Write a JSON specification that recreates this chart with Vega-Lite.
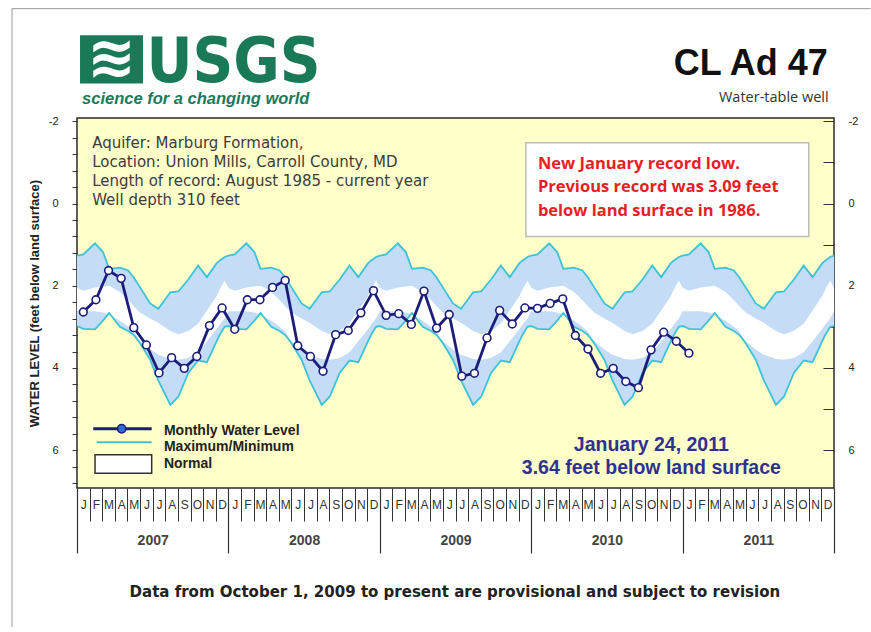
{
  "$schema": "https://vega.github.io/schema/vega-lite/v6.json",
  "autosize": {"type": "none"},
  "width": 757,
  "height": 370,
  "padding": {"left": 77, "top": 118, "right": 37, "bottom": 144},
  "background": "white",
  "config": {
    "view": {"fill": "#ffffc9", "stroke": "#2a2a2a", "strokeWidth": 1.5},
    "font": "Liberation Sans"
  },
  "datasets": {
    "bands": [
      {"t": 0, "top": 1.27, "ntop": 2.05, "nbot": 2.62, "bot": 2.98},
      {"t": 0.5, "top": 1.24, "ntop": 2.12, "nbot": 2.62, "bot": 3.05},
      {"t": 1.43, "top": 0.97, "ntop": 2.04, "nbot": 2.62, "bot": 3.06},
      {"t": 2.06, "top": 1.18, "ntop": 2.02, "nbot": 2.65, "bot": 2.85},
      {"t": 2.55, "top": 1.59, "ntop": 2.0, "nbot": 2.7, "bot": 2.66},
      {"t": 3.4, "top": 1.56, "ntop": 2.15, "nbot": 2.85, "bot": 3.0},
      {"t": 4.06, "top": 1.63, "ntop": 2.35, "nbot": 3.0, "bot": 3.1},
      {"t": 4.5, "top": 1.8, "ntop": 2.5, "nbot": 3.12, "bot": 3.2},
      {"t": 5, "top": 2.04, "ntop": 2.65, "nbot": 3.35, "bot": 3.4},
      {"t": 5.8, "top": 2.43, "ntop": 2.8, "nbot": 3.55, "bot": 3.8},
      {"t": 6.44, "top": 2.56, "ntop": 2.9, "nbot": 3.68, "bot": 4.3},
      {"t": 7.4, "top": 2.16, "ntop": 3.1, "nbot": 3.78, "bot": 4.9},
      {"t": 8.03, "top": 2.14, "ntop": 3.18, "nbot": 3.8, "bot": 4.7},
      {"t": 8.82, "top": 1.85, "ntop": 3.1, "nbot": 3.76, "bot": 4.12},
      {"t": 9.6, "top": 1.51, "ntop": 2.92, "nbot": 3.62, "bot": 3.82},
      {"t": 10.3, "top": 1.79, "ntop": 2.6, "nbot": 3.35, "bot": 3.86},
      {"t": 11.07, "top": 1.45, "ntop": 2.25, "nbot": 3.05, "bot": 3.35},
      {"t": 11.3, "top": 1.39, "ntop": 2.1, "nbot": 2.95, "bot": 3.2},
      {"t": 11.7, "top": 1.3, "ntop": 1.87, "nbot": 2.8, "bot": 3.0},
      {"t": 12, "top": 1.27, "ntop": 2.05, "nbot": 2.62, "bot": 2.98},
      {"t": 12.5, "top": 1.24, "ntop": 2.12, "nbot": 2.62, "bot": 3.05},
      {"t": 13.43, "top": 0.97, "ntop": 2.04, "nbot": 2.62, "bot": 3.06},
      {"t": 14.06, "top": 1.18, "ntop": 2.02, "nbot": 2.65, "bot": 2.85},
      {"t": 14.55, "top": 1.59, "ntop": 2.0, "nbot": 2.7, "bot": 2.66},
      {"t": 15.4, "top": 1.56, "ntop": 2.15, "nbot": 2.85, "bot": 3.0},
      {"t": 16.06, "top": 1.63, "ntop": 2.35, "nbot": 3.0, "bot": 3.1},
      {"t": 16.5, "top": 1.8, "ntop": 2.5, "nbot": 3.12, "bot": 3.2},
      {"t": 17, "top": 2.04, "ntop": 2.65, "nbot": 3.35, "bot": 3.4},
      {"t": 17.8, "top": 2.43, "ntop": 2.8, "nbot": 3.55, "bot": 3.8},
      {"t": 18.44, "top": 2.56, "ntop": 2.9, "nbot": 3.68, "bot": 4.3},
      {"t": 19.4, "top": 2.16, "ntop": 3.1, "nbot": 3.78, "bot": 4.9},
      {"t": 20.03, "top": 2.14, "ntop": 3.18, "nbot": 3.8, "bot": 4.7},
      {"t": 20.82, "top": 1.85, "ntop": 3.1, "nbot": 3.76, "bot": 4.12},
      {"t": 21.6, "top": 1.51, "ntop": 2.92, "nbot": 3.62, "bot": 3.82},
      {"t": 22.3, "top": 1.79, "ntop": 2.6, "nbot": 3.35, "bot": 3.86},
      {"t": 23.07, "top": 1.45, "ntop": 2.25, "nbot": 3.05, "bot": 3.35},
      {"t": 23.3, "top": 1.39, "ntop": 2.1, "nbot": 2.95, "bot": 3.2},
      {"t": 23.7, "top": 1.3, "ntop": 1.87, "nbot": 2.8, "bot": 3.0},
      {"t": 24, "top": 1.27, "ntop": 2.05, "nbot": 2.62, "bot": 2.98},
      {"t": 24.5, "top": 1.24, "ntop": 2.12, "nbot": 2.62, "bot": 3.05},
      {"t": 25.43, "top": 0.97, "ntop": 2.04, "nbot": 2.62, "bot": 3.06},
      {"t": 26.06, "top": 1.18, "ntop": 2.02, "nbot": 2.65, "bot": 2.85},
      {"t": 26.55, "top": 1.59, "ntop": 2.0, "nbot": 2.7, "bot": 2.66},
      {"t": 27.4, "top": 1.56, "ntop": 2.15, "nbot": 2.85, "bot": 3.0},
      {"t": 28.06, "top": 1.63, "ntop": 2.35, "nbot": 3.0, "bot": 3.1},
      {"t": 28.5, "top": 1.8, "ntop": 2.5, "nbot": 3.12, "bot": 3.2},
      {"t": 29, "top": 2.04, "ntop": 2.65, "nbot": 3.35, "bot": 3.4},
      {"t": 29.8, "top": 2.43, "ntop": 2.8, "nbot": 3.55, "bot": 3.8},
      {"t": 30.44, "top": 2.56, "ntop": 2.9, "nbot": 3.68, "bot": 4.3},
      {"t": 31.4, "top": 2.16, "ntop": 3.1, "nbot": 3.78, "bot": 4.9},
      {"t": 32.03, "top": 2.14, "ntop": 3.18, "nbot": 3.8, "bot": 4.7},
      {"t": 32.82, "top": 1.85, "ntop": 3.1, "nbot": 3.76, "bot": 4.12},
      {"t": 33.6, "top": 1.51, "ntop": 2.92, "nbot": 3.62, "bot": 3.82},
      {"t": 34.3, "top": 1.79, "ntop": 2.6, "nbot": 3.35, "bot": 3.86},
      {"t": 35.07, "top": 1.45, "ntop": 2.25, "nbot": 3.05, "bot": 3.35},
      {"t": 35.3, "top": 1.39, "ntop": 2.1, "nbot": 2.95, "bot": 3.2},
      {"t": 35.7, "top": 1.3, "ntop": 1.87, "nbot": 2.8, "bot": 3.0},
      {"t": 36, "top": 1.27, "ntop": 2.05, "nbot": 2.62, "bot": 2.98},
      {"t": 36.5, "top": 1.24, "ntop": 2.12, "nbot": 2.62, "bot": 3.05},
      {"t": 37.43, "top": 0.97, "ntop": 2.04, "nbot": 2.62, "bot": 3.06},
      {"t": 38.06, "top": 1.18, "ntop": 2.02, "nbot": 2.65, "bot": 2.85},
      {"t": 38.55, "top": 1.59, "ntop": 2.0, "nbot": 2.7, "bot": 2.66},
      {"t": 39.4, "top": 1.56, "ntop": 2.15, "nbot": 2.85, "bot": 3.0},
      {"t": 40.06, "top": 1.63, "ntop": 2.35, "nbot": 3.0, "bot": 3.1},
      {"t": 40.5, "top": 1.8, "ntop": 2.5, "nbot": 3.12, "bot": 3.2},
      {"t": 41, "top": 2.04, "ntop": 2.65, "nbot": 3.35, "bot": 3.4},
      {"t": 41.8, "top": 2.43, "ntop": 2.8, "nbot": 3.55, "bot": 3.8},
      {"t": 42.44, "top": 2.56, "ntop": 2.9, "nbot": 3.68, "bot": 4.3},
      {"t": 43.4, "top": 2.16, "ntop": 3.1, "nbot": 3.78, "bot": 4.9},
      {"t": 44.03, "top": 2.14, "ntop": 3.18, "nbot": 3.8, "bot": 4.7},
      {"t": 44.82, "top": 1.85, "ntop": 3.1, "nbot": 3.76, "bot": 4.12},
      {"t": 45.6, "top": 1.51, "ntop": 2.92, "nbot": 3.62, "bot": 3.82},
      {"t": 46.3, "top": 1.79, "ntop": 2.6, "nbot": 3.35, "bot": 3.86},
      {"t": 47.07, "top": 1.45, "ntop": 2.25, "nbot": 3.05, "bot": 3.35},
      {"t": 47.3, "top": 1.39, "ntop": 2.1, "nbot": 2.95, "bot": 3.2},
      {"t": 47.7, "top": 1.3, "ntop": 1.87, "nbot": 2.8, "bot": 3.0},
      {"t": 48, "top": 1.27, "ntop": 2.05, "nbot": 2.62, "bot": 2.98},
      {"t": 48.5, "top": 1.24, "ntop": 2.12, "nbot": 2.62, "bot": 3.05},
      {"t": 49.43, "top": 0.97, "ntop": 2.04, "nbot": 2.62, "bot": 3.06},
      {"t": 50.06, "top": 1.18, "ntop": 2.02, "nbot": 2.65, "bot": 2.85},
      {"t": 50.55, "top": 1.59, "ntop": 2.0, "nbot": 2.7, "bot": 2.66},
      {"t": 51.4, "top": 1.56, "ntop": 2.15, "nbot": 2.85, "bot": 3.0},
      {"t": 52.06, "top": 1.63, "ntop": 2.35, "nbot": 3.0, "bot": 3.1},
      {"t": 52.5, "top": 1.8, "ntop": 2.5, "nbot": 3.12, "bot": 3.2},
      {"t": 53, "top": 2.04, "ntop": 2.65, "nbot": 3.35, "bot": 3.4},
      {"t": 53.8, "top": 2.43, "ntop": 2.8, "nbot": 3.55, "bot": 3.8},
      {"t": 54.44, "top": 2.56, "ntop": 2.9, "nbot": 3.68, "bot": 4.3},
      {"t": 55.4, "top": 2.16, "ntop": 3.1, "nbot": 3.78, "bot": 4.9},
      {"t": 56.03, "top": 2.14, "ntop": 3.18, "nbot": 3.8, "bot": 4.7},
      {"t": 56.82, "top": 1.85, "ntop": 3.1, "nbot": 3.76, "bot": 4.12},
      {"t": 57.6, "top": 1.51, "ntop": 2.92, "nbot": 3.62, "bot": 3.82},
      {"t": 58.3, "top": 1.79, "ntop": 2.6, "nbot": 3.35, "bot": 3.86},
      {"t": 59.07, "top": 1.45, "ntop": 2.25, "nbot": 3.05, "bot": 3.35},
      {"t": 59.3, "top": 1.39, "ntop": 2.1, "nbot": 2.95, "bot": 3.2},
      {"t": 59.7, "top": 1.3, "ntop": 1.87, "nbot": 2.8, "bot": 3.0},
      {"t": 60, "top": 1.27, "ntop": 2.05, "nbot": 2.62, "bot": 2.98}
    ],
    "levels": [
      {"t": 0.5, "level": 2.64}, {"t": 1.5, "level": 2.34}, {"t": 2.5, "level": 1.63}, {"t": 3.5, "level": 1.82},
      {"t": 4.5, "level": 3.02}, {"t": 5.5, "level": 3.44}, {"t": 6.5, "level": 4.12}, {"t": 7.5, "level": 3.75},
      {"t": 8.5, "level": 4.01}, {"t": 9.5, "level": 3.72}, {"t": 10.5, "level": 2.97}, {"t": 11.5, "level": 2.54},
      {"t": 12.5, "level": 3.06}, {"t": 13.5, "level": 2.34}, {"t": 14.5, "level": 2.34}, {"t": 15.5, "level": 2.04},
      {"t": 16.5, "level": 1.87}, {"t": 17.5, "level": 3.46}, {"t": 18.5, "level": 3.72}, {"t": 19.5, "level": 4.08},
      {"t": 20.5, "level": 3.19}, {"t": 21.5, "level": 3.09}, {"t": 22.5, "level": 2.66}, {"t": 23.5, "level": 2.12},
      {"t": 24.5, "level": 2.72}, {"t": 25.5, "level": 2.68}, {"t": 26.5, "level": 2.94}, {"t": 27.5, "level": 2.13},
      {"t": 28.5, "level": 3.03}, {"t": 29.5, "level": 2.7}, {"t": 30.5, "level": 4.2}, {"t": 31.5, "level": 4.13},
      {"t": 32.5, "level": 3.27}, {"t": 33.5, "level": 2.6}, {"t": 34.5, "level": 2.93}, {"t": 35.5, "level": 2.54},
      {"t": 36.5, "level": 2.55}, {"t": 37.5, "level": 2.43}, {"t": 38.5, "level": 2.32}, {"t": 39.5, "level": 3.21},
      {"t": 40.5, "level": 3.54}, {"t": 41.5, "level": 4.13}, {"t": 42.5, "level": 4.01}, {"t": 43.5, "level": 4.33},
      {"t": 44.5, "level": 4.48}, {"t": 45.5, "level": 3.56}, {"t": 46.5, "level": 3.13}, {"t": 47.5, "level": 3.35},
      {"t": 48.5, "level": 3.64}
    ]
  },
  "resolve": {"axis": {"x": "independent", "y": "independent"}},
  "layer": [
    {
      "data": {"name": "bands"},
      "mark": {"type": "area", "color": "#c4dcf6", "interpolate": "linear"},
      "encoding": {
        "x": {"field": "t", "type": "quantitative", "scale": {"domain": [0, 60], "nice": false, "zero": false},
          "axis": {"orient": "bottom", "title": null, "values": [0,1,2,3,4,5,6,7,8,9,10,11,12,13,14,15,16,17,18,19,20,21,22,23,24,25,26,27,28,29,30,31,32,33,34,35,36,37,38,39,40,41,42,43,44,45,46,47,48,49,50,51,52,53,54,55,56,57,58,59,60],
            "tickSize": 33, "labels": false, "domain": false, "grid": false, "tickColor": "#333", "tickWidth": 1}},
        "y": {"field": "top", "type": "quantitative", "scale": {"domain": [-2.08, 6.92], "reverse": true, "nice": false, "zero": false},
          "axis": {"orient": "left", "values": [-2,-1.6,-1.2,-0.8,-0.4,0,0.4,0.8,1.2,1.6,2,2.4,2.8,3.2,3.6,4,4.4,4.8,5.2,5.6,6,6.4,6.8],
            "labelExpr": "datum.value % 2 === 0 ? '' + datum.value : ''", "labelOverlap": false, "labelFlush": false,
            "tickSize": 5, "tickColor": "#333", "labelPadding": 14, "labelFontSize": 11, "labelColor": "#222", "domain": false, "grid": false,
            "title": "WATER LEVEL     (feet below land surface)", "titleFontSize": 13, "titleFontWeight": "bold", "titleColor": "#222", "titlePadding": 7}},
        "y2": {"field": "bot"}
      }
    },
    {
      "data": {"name": "bands"},
      "mark": {"type": "area", "color": "#ffffff", "interpolate": "linear"},
      "encoding": {
        "x": {"field": "t", "type": "quantitative",
          "axis": {"orient": "bottom", "title": null, "values": [0.5,1.5,2.5,3.5,4.5,5.5,6.5,7.5,8.5,9.5,10.5,11.5,12.5,13.5,14.5,15.5,16.5,17.5,18.5,19.5,20.5,21.5,22.5,23.5,24.5,25.5,26.5,27.5,28.5,29.5,30.5,31.5,32.5,33.5,34.5,35.5,36.5,37.5,38.5,39.5,40.5,41.5,42.5,43.5,44.5,45.5,46.5,47.5,48.5,49.5,50.5,51.5,52.5,53.5,54.5,55.5,56.5,57.5,58.5,59.5],
            "labelExpr": "['J','F','M','A','M','J','J','A','S','O','N','D'][floor(datum.value) % 12]",
            "ticks": false, "tickSize": 0, "labelPadding": 11, "labelFontSize": 12, "labelColor": "#333", "labelOverlap": false, "labelFlush": false, "domain": false, "grid": false}},
        "y": {"field": "ntop", "type": "quantitative", "axis": null},
        "y2": {"field": "nbot"}
      }
    },
    {
      "data": {"name": "bands"},
      "mark": {"type": "line", "color": "#3cc3d8", "strokeWidth": 1.8, "interpolate": "linear"},
      "encoding": {
        "x": {"field": "t", "type": "quantitative",
          "axis": {"orient": "bottom", "title": null, "values": [0, 12, 24, 36, 48, 60], "labels": false, "tickSize": 65, "tickColor": "#333", "tickWidth": 1.2, "domain": false, "grid": false}},
        "y": {"field": "top", "type": "quantitative",
          "axis": {"orient": "right", "title": null, "values": [-2,-1,0,1,2,3,4,5,6],
            "labelExpr": "datum.value % 2 === 0 ? '' + datum.value : ''", "labelOverlap": false, "labelFlush": false,
            "tickSize": -11, "tickColor": "#333", "labelPadding": 25, "labelFontSize": 11, "labelColor": "#222", "domain": false, "grid": false}}
      }
    },
    {
      "data": {"name": "bands"},
      "mark": {"type": "line", "color": "#3cc3d8", "strokeWidth": 1.8, "interpolate": "linear"},
      "encoding": {
        "x": {"field": "t", "type": "quantitative",
          "axis": {"orient": "bottom", "title": null, "values": [6, 18, 30, 42, 54],
            "labelExpr": "'' + (2007 + floor(datum.value / 12))",
            "ticks": false, "tickSize": 0, "labelPadding": 45, "labelFontSize": 14, "labelFontWeight": "bold", "labelColor": "#444", "labelFlush": false, "domain": false, "grid": false}},
        "y": {"field": "bot", "type": "quantitative", "axis": null}
      }
    },
    {
      "data": {"name": "levels"},
      "mark": {"type": "line", "color": "#1c1c7a", "strokeWidth": 2.8,
        "point": {"filled": true, "fill": "white", "stroke": "#1c1c7a", "strokeWidth": 1.6, "size": 60, "opacity": 1}},
      "encoding": {
        "x": {"field": "t", "type": "quantitative", "axis": null},
        "y": {"field": "level", "type": "quantitative", "axis": null}
      }
    },
    {
      "data": {"values": [{}]},
      "mark": {"type": "text", "text": "Aquifer: Marburg Formation,\nLocation: Union Mills, Carroll County, MD\nLength of record: August 1985 - current year\nWell depth 310 feet",
        "lineBreak": "\n", "lineHeight": 18.7, "align": "left", "baseline": "middle", "font": "DejaVu Sans", "fontSize": 15, "color": "#3c3c3c"},
      "encoding": {
        "x": {"datum": 1.2, "type": "quantitative", "axis": null},
        "y": {"datum": -1.46, "type": "quantitative", "axis": null}
      }
    },
    {
      "data": {"values": [{}]},
      "mark": {"type": "rect", "fill": "white", "stroke": "#bdbdbd", "strokeWidth": 1.5},
      "encoding": {
        "x": {"datum": 35.58, "type": "quantitative", "axis": null},
        "x2": {"datum": 58.0},
        "y": {"datum": -1.48, "type": "quantitative", "axis": null},
        "y2": {"datum": 0.8}
      }
    },
    {
      "data": {"values": [{}]},
      "mark": {"type": "text", "text": "New January record low.\nPrevious record was 3.09 feet\nbelow land surface in 1986.",
        "lineBreak": "\n", "lineHeight": 23.5, "align": "left", "baseline": "middle", "fontSize": 16.5, "fontWeight": "bold", "font": "Open Sans", "color": "#e81e25"},
      "encoding": {
        "x": {"datum": 36.53, "type": "quantitative", "axis": null},
        "y": {"datum": -0.97, "type": "quantitative", "axis": null}
      }
    },
    {
      "data": {"values": [{}]},
      "mark": {"type": "text", "text": "January 24, 2011\n3.64 feet below land surface",
        "lineBreak": "\n", "lineHeight": 23, "align": "center", "baseline": "middle", "fontSize": 19.5, "fontWeight": "bold", "color": "#2e3192"},
      "encoding": {
        "x": {"datum": 45.52, "type": "quantitative", "axis": null},
        "y": {"datum": 5.87, "type": "quantitative", "axis": null}
      }
    },
    {
      "data": {"values": [{}]},
      "mark": {"type": "rule", "color": "#1c1c7a", "strokeWidth": 3},
      "encoding": {
        "x": {"datum": 1.29, "type": "quantitative", "axis": null},
        "x2": {"datum": 5.92},
        "y": {"datum": 5.48, "type": "quantitative", "axis": null}
      }
    },
    {
      "data": {"values": [{}]},
      "mark": {"type": "point", "filled": true, "fill": "#2a6ccf", "stroke": "#1c1c7a", "strokeWidth": 1.5, "size": 70, "opacity": 1},
      "encoding": {
        "x": {"datum": 3.54, "type": "quantitative", "axis": null},
        "y": {"datum": 5.48, "type": "quantitative", "axis": null}
      }
    },
    {
      "data": {"values": [{}]},
      "mark": {"type": "rule", "color": "#3cc3d8", "strokeWidth": 2},
      "encoding": {
        "x": {"datum": 1.56, "type": "quantitative", "axis": null},
        "x2": {"datum": 5.92},
        "y": {"datum": 5.81, "type": "quantitative", "axis": null}
      }
    },
    {
      "data": {"values": [{}]},
      "mark": {"type": "rect", "fill": "white", "stroke": "#333", "strokeWidth": 1.5},
      "encoding": {
        "x": {"datum": 1.43, "type": "quantitative", "axis": null},
        "x2": {"datum": 5.92},
        "y": {"datum": 6.11, "type": "quantitative", "axis": null},
        "y2": {"datum": 6.56}
      }
    },
    {
      "data": {"values": [{}]},
      "mark": {"type": "text", "text": "Monthly Water Level\nMaximum/Minimum\nNormal", "lineBreak": "\n", "lineHeight": 16.5,
        "align": "left", "baseline": "middle", "fontSize": 14, "fontWeight": "bold", "color": "#222"},
      "encoding": {
        "x": {"datum": 6.89, "type": "quantitative", "axis": null},
        "y": {"datum": 5.53, "type": "quantitative", "axis": null}
      }
    },
    {
      "data": {"values": [{}]},
      "mark": {"type": "rule", "color": "#9a9a9a", "strokeWidth": 1},
      "encoding": {
        "x": {"datum": -5.15, "type": "quantitative", "axis": null},
        "x2": {"datum": 62.9},
        "y": {"datum": -4.74, "type": "quantitative", "axis": null}
      }
    },
    {
      "data": {"values": [{}]},
      "mark": {"type": "rule", "color": "#9a9a9a", "strokeWidth": 1},
      "encoding": {
        "x": {"datum": -5.15, "type": "quantitative", "axis": null},
        "y": {"datum": -4.74, "type": "quantitative", "axis": null},
        "y2": {"datum": 10.3}
      }
    },
    {
      "data": {"values": [{}]},
      "mark": {"type": "rect", "fill": "#1a7a57"},
      "encoding": {
        "x": {"datum": 0.24, "type": "quantitative", "axis": null},
        "x2": {"datum": 5.23},
        "y": {"datum": -4.09, "type": "quantitative", "axis": null},
        "y2": {"datum": -2.92}
      }
    },
    {
      "data": {"values": [{}]},
      "mark": {"type": "text", "text": "≋", "font": "DejaVu Sans", "fontSize": 58, "fontWeight": "bold", "color": "white", "align": "center", "baseline": "middle"},
      "encoding": {
        "x": {"datum": 2.73, "type": "quantitative", "axis": null},
        "y": {"datum": -3.5, "type": "quantitative", "axis": null}
      }
    },
    {
      "data": {"values": [{}]},
      "mark": {"type": "text", "text": "USGS", "font": "DejaVu Sans Condensed", "fontSize": 63, "fontWeight": "bold", "color": "#1a7a57", "align": "left", "baseline": "alphabetic"},
      "encoding": {
        "x": {"datum": 5.5, "type": "quantitative", "axis": null},
        "y": {"datum": -2.95, "type": "quantitative", "axis": null}
      }
    },
    {
      "data": {"values": [{}]},
      "mark": {"type": "text", "text": "science for a changing world", "fontSize": 16.5, "fontWeight": "bold", "fontStyle": "italic", "color": "#1a7a57", "align": "left", "baseline": "alphabetic"},
      "encoding": {
        "x": {"datum": 0.4, "type": "quantitative", "axis": null},
        "y": {"datum": -2.42, "type": "quantitative", "axis": null}
      }
    },
    {
      "data": {"values": [{}]},
      "mark": {"type": "text", "text": "CL Ad 47", "fontSize": 36, "fontWeight": "bold", "color": "#111", "align": "right", "baseline": "alphabetic"},
      "encoding": {
        "x": {"datum": 59.5, "type": "quantitative", "axis": null},
        "y": {"datum": -3.13, "type": "quantitative", "axis": null}
      }
    },
    {
      "data": {"values": [{}]},
      "mark": {"type": "text", "text": "Water-table well", "font": "Open Sans", "fontSize": 14.5, "color": "#333", "align": "right", "baseline": "alphabetic"},
      "encoding": {
        "x": {"datum": 59.58, "type": "quantitative", "axis": null},
        "y": {"datum": -2.47, "type": "quantitative", "axis": null}
      }
    },
    {
      "data": {"values": [{}]},
      "mark": {"type": "text", "text": "Data from October 1, 2009 to present are provisional and subject to revision", "font": "DejaVu Sans Condensed", "fontSize": 16.7, "fontWeight": "bold", "color": "#222", "align": "center", "baseline": "middle"},
      "encoding": {
        "x": {"datum": 29.95, "type": "quantitative", "axis": null},
        "y": {"datum": 9.46, "type": "quantitative", "axis": null}
      }
    }
  ]
}
